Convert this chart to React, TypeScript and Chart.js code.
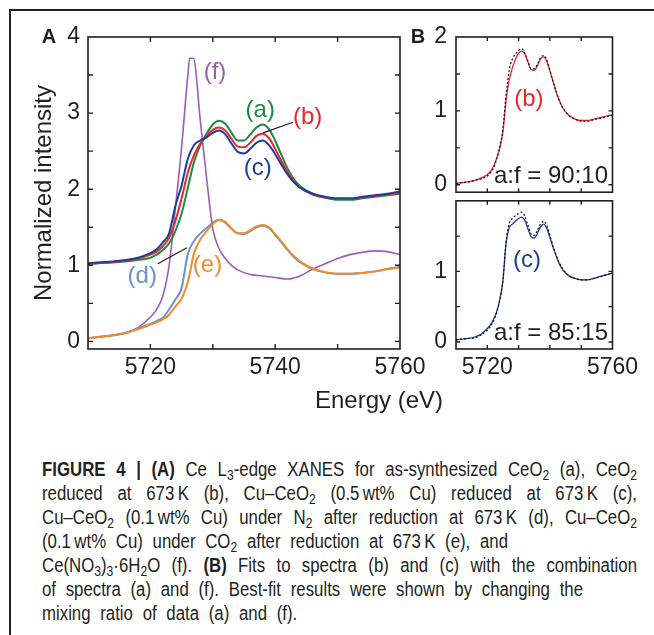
import React, { useEffect, useRef } from "react";
import { Chart, registerables } from "chart.js";

Chart.register(...registerables);

const INK = "#231f20";
const SANS = '"Liberation Sans", Arial, Helvetica, sans-serif';

const COLORS = {
  a: "#21893c",
  b: "#e8262b",
  c: "#1b3d9c",
  d: "#6a91d3",
  e: "#f28b26",
  f: "#9b5cb7",
  fit: "#111111",
};

// Energy grid (eV)
const energy = [5710, 5712, 5714, 5716, 5718, 5720, 5721, 5722, 5723, 5724, 5725, 5726, 5727, 5728, 5729, 5730, 5731, 5732, 5733, 5734, 5735, 5736, 5737, 5738, 5739, 5740, 5741, 5742, 5743, 5744, 5746, 5748, 5750, 5752, 5754, 5756, 5758, 5760];
const fEnergy = [5710, 5712, 5714, 5716, 5718, 5720, 5721, 5722, 5723, 5724, 5725, 5726, 5726.3, 5726.9, 5728, 5729, 5730, 5731, 5732, 5733, 5734, 5736, 5738, 5740, 5742, 5744, 5746, 5748, 5750, 5752, 5754, 5756, 5758, 5760];

// Panel A spectra (normalized intensity)
const specA = [1.02, 1.03, 1.04, 1.05, 1.07, 1.10, 1.14, 1.20, 1.29, 1.45, 1.68, 2.02, 2.36, 2.58, 2.73, 2.85, 2.90, 2.86, 2.74, 2.64, 2.64, 2.72, 2.81, 2.85, 2.79, 2.64, 2.45, 2.27, 2.13, 2.04, 1.94, 1.89, 1.86, 1.86, 1.88, 1.90, 1.92, 1.94];
const specB = [1.02, 1.03, 1.04, 1.06, 1.09, 1.14, 1.18, 1.25, 1.36, 1.58, 1.88, 2.22, 2.45, 2.60, 2.70, 2.78, 2.81, 2.77, 2.66, 2.56, 2.55, 2.61, 2.70, 2.73, 2.67, 2.53, 2.37, 2.22, 2.10, 2.02, 1.93, 1.89, 1.87, 1.87, 1.89, 1.91, 1.93, 1.95];
const specC = [1.03, 1.04, 1.05, 1.07, 1.10, 1.16, 1.21, 1.30, 1.42, 1.78, 2.05, 2.40, 2.58, 2.64, 2.68, 2.74, 2.77, 2.72, 2.60, 2.49, 2.47, 2.53, 2.61, 2.64, 2.58, 2.46, 2.32, 2.19, 2.09, 2.02, 1.94, 1.90, 1.88, 1.88, 1.90, 1.92, 1.94, 1.97];
const specD = [0.04, 0.06, 0.08, 0.11, 0.17, 0.23, 0.27, 0.31, 0.42, 0.55, 0.70, 1.15, 1.32, 1.42, 1.49, 1.56, 1.60, 1.56, 1.48, 1.42, 1.41, 1.45, 1.50, 1.52, 1.49, 1.40, 1.30, 1.20, 1.11, 1.04, 0.95, 0.91, 0.89, 0.89, 0.90, 0.92, 0.95, 0.98];
const specE = [0.04, 0.06, 0.08, 0.11, 0.16, 0.22, 0.25, 0.29, 0.35, 0.46, 0.56, 0.78, 1.16, 1.34, 1.45, 1.54, 1.60, 1.57, 1.48, 1.42, 1.42, 1.46, 1.51, 1.53, 1.50, 1.41, 1.31, 1.21, 1.12, 1.05, 0.96, 0.91, 0.89, 0.89, 0.90, 0.92, 0.95, 0.97];
const specF = [0.04, 0.06, 0.08, 0.11, 0.18, 0.32, 0.42, 0.60, 1.00, 1.75, 2.55, 3.50, 3.72, 3.72, 2.90, 2.15, 1.48, 1.22, 1.09, 1.00, 0.94, 0.88, 0.86, 0.84, 0.82, 0.86, 0.95, 1.02, 1.09, 1.14, 1.17, 1.19, 1.18, 1.14];

// Panel B spectra and fits
const specBInB = [0.02, 0.03, 0.04, 0.06, 0.09, 0.14, 0.18, 0.25, 0.36, 0.50, 0.72, 1.14, 1.42, 1.58, 1.70, 1.78, 1.81, 1.77, 1.66, 1.56, 1.55, 1.61, 1.70, 1.73, 1.67, 1.54, 1.40, 1.26, 1.14, 1.05, 0.94, 0.89, 0.87, 0.87, 0.89, 0.91, 0.93, 0.95];
const fitB = [0.02, 0.03, 0.04, 0.06, 0.08, 0.12, 0.16, 0.23, 0.35, 0.52, 0.76, 1.22, 1.55, 1.70, 1.77, 1.82, 1.84, 1.78, 1.67, 1.57, 1.57, 1.63, 1.72, 1.75, 1.69, 1.55, 1.40, 1.26, 1.14, 1.05, 0.94, 0.89, 0.86, 0.86, 0.88, 0.90, 0.92, 0.94];
const specCInB = [0.03, 0.04, 0.05, 0.07, 0.11, 0.19, 0.24, 0.32, 0.43, 0.60, 0.87, 1.40, 1.62, 1.67, 1.71, 1.75, 1.77, 1.72, 1.60, 1.49, 1.47, 1.54, 1.63, 1.67, 1.61, 1.48, 1.34, 1.22, 1.11, 1.03, 0.94, 0.90, 0.88, 0.88, 0.90, 0.93, 0.95, 0.98];
const fitC = [0.03, 0.04, 0.05, 0.06, 0.10, 0.17, 0.22, 0.30, 0.42, 0.60, 0.88, 1.42, 1.68, 1.75, 1.79, 1.82, 1.84, 1.78, 1.65, 1.53, 1.51, 1.58, 1.67, 1.71, 1.65, 1.51, 1.36, 1.23, 1.12, 1.04, 0.94, 0.90, 0.88, 0.88, 0.90, 0.92, 0.95, 0.98];

// Axis settings
const xRange = [5710, 5760];
const yRangeA = [-0.1, 4];
const yRangeB = [-0.1, 2];

type Lbl = { text: string; color: string; x: number; y: number; size?: number; align?: CanvasTextAlign };
type Leader = { x1: number; y1: number; x2: number; y2: number };
type Free = { text: string; px: number; py: number; size: number; bold?: boolean; align?: CanvasTextAlign };

function pts(xs: number[], ys: number[]) {
  return xs.map((x, i) => ({ x, y: ys[i] }));
}

function ds(label: string, xs: number[], ys: number[], color: string, width: number, dash?: number[]) {
  return {
    label,
    data: pts(xs, ys),
    borderColor: color,
    backgroundColor: color,
    borderWidth: width,
    borderDash: dash || [],
    pointRadius: 0,
    fill: false,
    cubicInterpolationMode: "monotone" as const,
  };
}

function decorPlugin(labels: Lbl[], leaders: Leader[], free: Free[], tickLen: number) {
  return {
    id: "decor",
    afterDraw(chart: any) {
      const { ctx, chartArea } = chart;
      const { left, right, top, bottom } = chartArea;
      const xs = chart.scales.x;
      const ys = chart.scales.y;
      ctx.save();
      ctx.strokeStyle = INK;
      ctx.lineWidth = 1.6;
      ctx.strokeRect(left, top, right - left, bottom - top);
      ctx.lineWidth = 1.4;
      ctx.beginPath();
      for (const t of xs.ticks) {
        const p = xs.getPixelForValue(t.value);
        if (p < left + 2 || p > right - 2) continue;
        ctx.moveTo(p, bottom);
        ctx.lineTo(p, bottom - tickLen);
        ctx.moveTo(p, top);
        ctx.lineTo(p, top + tickLen);
      }
      for (const t of ys.ticks) {
        const p = ys.getPixelForValue(t.value);
        if (p < top + 2 || p > bottom - 2) continue;
        ctx.moveTo(left, p);
        ctx.lineTo(left + tickLen, p);
        ctx.moveTo(right, p);
        ctx.lineTo(right - tickLen, p);
      }
      ctx.stroke();
      ctx.lineWidth = 1.2;
      ctx.beginPath();
      for (const l of leaders) {
        ctx.moveTo(xs.getPixelForValue(l.x1), ys.getPixelForValue(l.y1));
        ctx.lineTo(xs.getPixelForValue(l.x2), ys.getPixelForValue(l.y2));
      }
      ctx.stroke();
      ctx.textBaseline = "middle";
      for (const l of labels) {
        ctx.font = `${l.size || 24}px ${SANS}`;
        ctx.fillStyle = l.color;
        ctx.textAlign = l.align || "center";
        ctx.fillText(l.text, xs.getPixelForValue(l.x), ys.getPixelForValue(l.y));
      }
      for (const f of free) {
        ctx.font = `${f.bold ? "bold " : ""}${f.size}px ${SANS}`;
        ctx.fillStyle = INK;
        ctx.textAlign = f.align || "center";
        ctx.fillText(f.text, f.px, f.py);
      }
      ctx.restore();
    },
  };
}

function baseOptions(o: {
  padding: { left: number; top: number; right: number; bottom: number };
  yRange: number[];
  yWidth: number;
  xHeight: number;
  xLabel: (v: number) => string;
  showX: boolean;
  yLabel: (v: number) => string;
  yPad: number;
  yTitle?: string;
}) {
  return {
    animation: false,
    responsive: false,
    maintainAspectRatio: false,
    events: [],
    layout: { padding: o.padding },
    plugins: { legend: { display: false }, tooltip: { enabled: false }, title: { display: false } },
    scales: {
      x: {
        type: "linear",
        min: xRange[0],
        max: xRange[1],
        grid: { display: false, drawTicks: false },
        border: { display: false },
        ticks: {
          display: o.showX,
          stepSize: 10,
          includeBounds: false,
          autoSkip: false,
          maxRotation: 0,
          minRotation: 0,
          padding: 5,
          color: INK,
          font: { family: SANS, size: 23 },
          callback: (v: any) => o.xLabel(Number(v)),
        },
        afterFit: (s: any) => {
          s.height = o.xHeight;
        },
      },
      y: {
        type: "linear",
        min: o.yRange[0],
        max: o.yRange[1],
        grid: { display: false, drawTicks: false },
        border: { display: false },
        ticks: {
          stepSize: 0.5,
          includeBounds: false,
          autoSkip: false,
          padding: o.yPad,
          color: INK,
          font: { family: SANS, size: 23 },
          callback: (v: any) => o.yLabel(Number(v)),
        },
        title: o.yTitle
          ? { display: true, text: o.yTitle, color: INK, font: { family: SANS, size: 24 }, padding: { top: 30, bottom: 0 } }
          : { display: false },
        afterFit: (s: any) => {
          s.width = o.yWidth;
        },
      },
    },
  };
}

const configA = () => ({
  type: "line",
  data: {
    datasets: [
      ds("(e)", energy, specE, COLORS.e, 2),
      ds("(d)", energy, specD, COLORS.d, 2),
      ds("(c)", energy, specC, COLORS.c, 2),
      ds("(b)", energy, specB, COLORS.b, 2),
      ds("(a)", energy, specA, COLORS.a, 2),
      ds("(f)", fEnergy, specF, COLORS.f, 1.6),
    ],
  },
  options: baseOptions({
    padding: { left: 0, top: 37, right: 60, bottom: 11 },
    yRange: yRangeA,
    yWidth: 88,
    xHeight: 60,
    xLabel: (v) => (v % 20 === 0 ? String(v) : ""),
    showX: true,
    yLabel: (v) => (Number.isInteger(v) ? String(v) : ""),
    yPad: 8,
    yTitle: "Normalized intensity",
  }),
  plugins: [
    decorPlugin(
      [
        { text: "(f)", color: COLORS.f, x: 5730.35, y: 3.54 },
        { text: "(a)", color: COLORS.a, x: 5737.6, y: 3.03 },
        { text: "(b)", color: COLORS.b, x: 5745.2, y: 2.95 },
        { text: "(c)", color: COLORS.c, x: 5737.2, y: 2.28 },
        { text: "(d)", color: COLORS.d, x: 5718.7, y: 0.85 },
        { text: "(e)", color: COLORS.e, x: 5729.15, y: 1.0 },
      ],
      [
        { x1: 5742.85, y1: 2.88, x2: 5738.05, y2: 2.74 },
        { x1: 5721.2, y1: 1.02, x2: 5725.85, y2: 1.23 },
      ],
      [
        { text: "A", px: 49, py: 37, size: 20, bold: true },
        { text: "Energy (eV)", px: 379, py: 401, size: 24 },
      ],
      5
    ),
  ],
});

const configBTop = () => ({
  type: "line",
  data: {
    datasets: [
      ds("fit 90:10", energy, fitB, COLORS.fit, 1.2, [2, 2]),
      ds("(b)", energy, specBInB, COLORS.b, 1.3),
    ],
  },
  options: baseOptions({
    padding: { left: 0, top: 37, right: 41.5, bottom: 7.3 },
    yRange: yRangeB,
    yWidth: 56,
    xHeight: 15,
    xLabel: () => "",
    showX: false,
    yLabel: (v) => (Number.isInteger(v) ? String(v) : ""),
    yPad: 9,
  }),
  plugins: [
    decorPlugin(
      [
        { text: "(b)", color: COLORS.b, x: 5733.3, y: 1.15 },
        { text: "a:f = 90:10", color: INK, x: 5740.35, y: 0.11 },
      ],
      [],
      [{ text: "B", px: 18, py: 37, size: 20, bold: true }],
      4
    ),
  ],
});

const configBBottom = () => ({
  type: "line",
  data: {
    datasets: [
      ds("fit 85:15", energy, fitC, COLORS.fit, 1.2, [2, 2]),
      ds("(c)", energy, specCInB, COLORS.c, 1.3),
    ],
  },
  options: baseOptions({
    padding: { left: 0, top: 14.7, right: 41.5, bottom: 11 },
    yRange: yRangeB,
    yWidth: 56,
    xHeight: 60,
    xLabel: (v) => (v === 5720 || v === 5760 ? String(v) : ""),
    showX: true,
    yLabel: (v) => (v === 0 || v === 1 ? String(v) : ""),
    yPad: 9,
  }),
  plugins: [
    decorPlugin(
      [
        { text: "(c)", color: COLORS.c, x: 5732.7, y: 1.16 },
        { text: "a:f = 85:15", color: INK, x: 5740.35, y: 0.115 },
      ],
      [],
      [],
      4
    ),
  ],
});

function ChartCanvas(props: { config: () => any; left: number; top: number; width: number; height: number }) {
  const ref = useRef<HTMLCanvasElement>(null);
  useEffect(() => {
    const chart = new Chart(ref.current as HTMLCanvasElement, props.config() as any);
    return () => chart.destroy();
  }, []);
  return (
    <canvas
      ref={ref}
      width={props.width}
      height={props.height}
      style={{ position: "absolute", left: props.left, top: props.top, width: props.width, height: props.height }}
    />
  );
}

const CAP_FONT = '"Liberation Sans", Arial, Helvetica, sans-serif';
const CAP_SCALE = 0.84;
const sub = (t: string) => <sub style={{ fontSize: "0.72em", lineHeight: 0, verticalAlign: "-0.25em" }}>{t}</sub>;

function Caption() {
  const lines: { node: React.ReactNode; justify: boolean }[] = [
    {
      node: (
        <>
          <b>FIGURE 4 | (A)</b> Ce L{sub("3")}-edge XANES for as-synthesized CeO{sub("2")} (a), CeO{sub("2")}
        </>
      ),
      justify: true,
    },
    {
      node: (
        <>
          reduced at 673{"\u2009"}K (b), Cu–CeO{sub("2")} (0.5{"\u2009"}wt% Cu) reduced at 673{"\u2009"}K (c),
        </>
      ),
      justify: true,
    },
    {
      node: (
        <>
          Cu–CeO{sub("2")} (0.1{"\u2009"}wt% Cu) under N{sub("2")} after reduction at 673{"\u2009"}K (d), Cu–CeO{sub("2")}
        </>
      ),
      justify: true,
    },
    {
      node: (
        <>
          (0.1{"\u2009"}wt% Cu) under CO{sub("2")} after reduction at 673{"\u2009"}K (e), and
        </>
      ),
      justify: false,
    },
    {
      node: (
        <>
          Ce(NO{sub("3")}){sub("3")}·6H{sub("2")}O (f). <b>(B)</b> Fits to spectra (b) and (c) with the combination
        </>
      ),
      justify: true,
    },
    { node: <>of spectra (a) and (f). Best-fit results were shown by changing the</>, justify: false },
    { node: <>mixing ratio of data (a) and (f).</>, justify: false },
  ];
  return (
    <div
      style={{
        position: "absolute",
        left: 42,
        top: 457,
        width: 595 / CAP_SCALE,
        transform: `scaleX(${CAP_SCALE})`,
        transformOrigin: "0 0",
        fontFamily: CAP_FONT,
        fontSize: 20,
        color: INK,
        wordSpacing: 6,
      }}
    >
      {lines.map((l, i) => (
        <div
          key={i}
          style={{
            height: 24,
            lineHeight: "24px",
            whiteSpace: "nowrap",
            textAlign: l.justify ? "justify" : "left",
            textAlignLast: l.justify ? "justify" : "left",
          }}
        >
          {l.node}
        </div>
      ))}
    </div>
  );
}

export default function App() {
  return (
    <div style={{ position: "absolute", left: 0, top: 0, width: 654, height: 635, overflow: "hidden", background: "#fff" }}>
      <div
        style={{
          position: "absolute",
          left: 9,
          top: 9,
          width: 700,
          height: 700,
          borderTop: `2px solid ${INK}`,
          borderLeft: `2px solid ${INK}`,
        }}
      />
      <ChartCanvas config={configA} left={0} top={0} width={460} height={420} />
      <ChartCanvas config={configBTop} left={400} top={0} width={254} height={215} />
      <ChartCanvas config={configBBottom} left={400} top={178} width={254} height={242} />
      <Caption />
    </div>
  );
}
